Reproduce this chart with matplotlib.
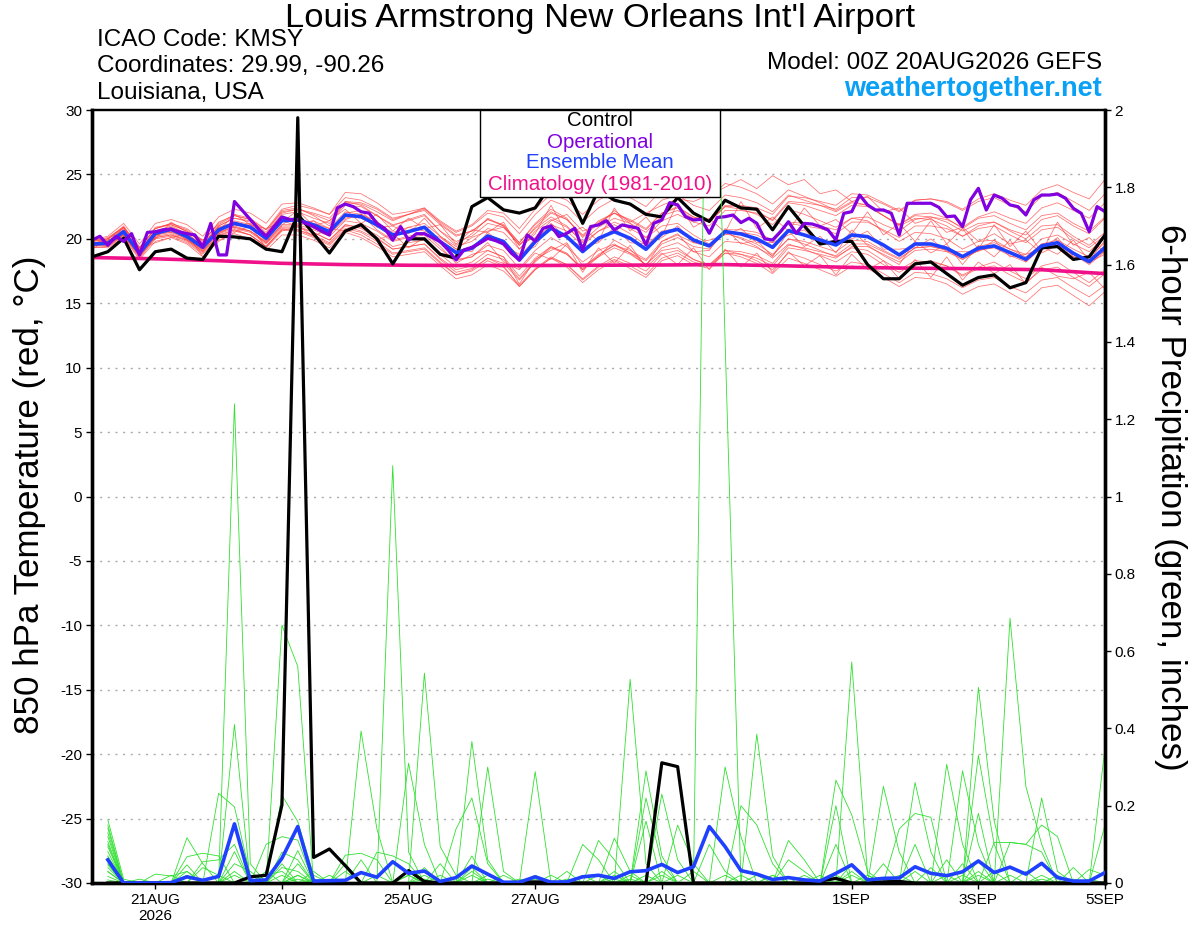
import numpy as np
import matplotlib
matplotlib.use('Agg')
import matplotlib.pyplot as plt
from matplotlib.patches import Rectangle

plt.rcParams['font.family'] = ['Liberation Sans', 'DejaVu Sans']

# forecast hours from 00Z 20AUG2026
hours_6h = np.arange(0, 385, 6)      # temperature, 6-hourly
hours_3h = np.arange(0, 385, 3)      # operational run, 3-hourly
hours_pcp = np.arange(6, 385, 6)     # 6-hour precipitation
hours_clim = np.arange(0, 385, 24)   # daily climatology

tick_hours = [24, 72, 120, 168, 216, 288, 336, 384]
tick_labels = ['21AUG\n2026', '23AUG', '25AUG', '27AUG', '29AUG', '1SEP', '3SEP', '5SEP']

# 850 hPa temperature (C)
control_t = [18.6, 19.0, 20.05, 17.6, 19.0, 19.2, 18.5, 18.4, 20.2, 20.15, 20.0, 19.2, 19.0,
             21.9, 20.4, 18.9, 20.6, 21.1, 20.0, 18.06, 20.0, 20.0, 18.8, 18.5, 22.5, 23.2,
             22.25, 22.0, 22.4, 24.2, 23.8, 21.2, 23.8, 23.0, 22.7, 21.9, 21.7, 23.2, 22.0,
             21.35, 23.0, 22.4, 22.3, 20.7, 22.5, 21.0, 19.6, 19.8, 19.8, 18.0, 16.9, 16.9,
             18.06, 18.2, 17.3, 16.4, 17.0, 17.2, 16.2, 16.6, 19.3, 19.4, 18.4, 18.6, 20.3]

mean_t = [19.6, 19.65, 20.56, 18.88, 20.43, 20.74, 20.17, 19.34, 20.69, 21.2, 20.9, 20.04, 21.41,
          21.46, 21.08, 20.56, 21.85, 21.72, 21.08, 20.3, 20.56, 20.9, 19.78, 18.93, 19.27, 20.22,
          19.78, 18.36, 19.78, 20.82, 20.17, 19.01, 20.04, 20.56, 20.04, 19.19, 20.43, 20.74, 19.91,
          19.45, 20.56, 20.38, 20.0, 19.34, 20.64, 20.3, 19.91, 19.52, 20.3, 20.17, 19.52, 18.75,
          19.6, 19.6, 19.27, 18.62, 19.27, 19.45, 18.93, 18.41, 19.45, 19.7, 18.88, 18.23, 19.34]

oper_t = [19.9, 20.2, 19.5, 20.2, 19.8, 20.4, 18.75, 20.5, 20.55, 20.7,
          20.75, 20.55, 20.4, 20.3, 19.35, 21.2, 18.75, 18.75, 22.9, 22.2,
          21.5, 20.8, 20.2, 20.95, 21.7, 21.5, 21.5, 21.2, 20.95, 20.6,
          20.3, 22.4, 22.7, 22.5, 22.1, 22.0, 21.2, 20.8, 19.9, 20.95,
          19.9, 20.4, 20.4, 20.1, 19.78, 19.14, 18.36, 19.14, 19.34, 19.66,
          20.04, 19.86, 19.6, 18.88, 18.36, 20.3, 19.83, 20.82, 21.0, 20.17,
          20.43, 20.82, 19.14, 20.95, 21.08, 21.41, 20.69, 21.08, 20.95, 20.82,
          19.52, 21.21, 21.46, 22.81, 22.63, 21.72, 21.46, 21.52, 20.43, 21.65,
          21.72, 21.85, 21.26, 21.6, 21.21, 20.0, 19.91, 20.56, 21.33, 20.43,
          21.2, 21.15, 20.95, 20.69, 19.91, 21.98, 22.11, 23.4, 22.63, 22.24,
          22.24, 21.98, 20.3, 22.76, 22.76, 22.76, 22.76, 22.45, 21.72, 21.77,
          20.95, 23.02, 23.92, 22.24, 23.4, 23.15, 22.63, 22.5, 21.85, 23.02,
          23.4, 23.4, 23.48, 23.15, 22.37, 21.98, 20.56, 22.5, 22.11]

clim_t = [18.55, 18.45, 18.3, 18.1, 18.0, 17.95, 17.93, 17.93, 17.95, 17.97, 18.0, 17.9,
          17.78, 17.72, 17.68, 17.6, 17.3]

# ensemble members, 850 hPa temperature
temp_members = [
    [19.9, 20.0, 21.0, 19.2, 20.9, 21.1, 20.6, 19.7, 21.3, 21.8, 21.5, 20.5, 22.2,
     22.4, 21.8, 21.0, 22.9, 22.6, 21.8, 21.0, 21.5, 21.9, 20.6, 19.5, 20.4, 21.6,
     21.0, 19.7, 21.2, 22.3, 21.6, 20.1, 21.2, 22.0, 21.2, 20.1, 21.0, 21.2, 20.3,
     19.6, 20.5, 20.0, 19.4, 18.5, 19.6, 19.2, 18.7, 18.2, 19.0, 18.8, 18.0, 17.4,
     18.1, 18.3, 17.9, 17.2, 17.8, 18.2, 17.5, 16.9, 17.9, 18.2, 17.4, 16.6, 17.6],
    [19.3, 19.4, 20.2, 18.5, 20.0, 20.2, 19.7, 18.8, 20.1, 20.6, 20.3, 19.4, 20.8,
     20.7, 20.3, 19.7, 21.0, 20.6, 20.0, 19.2, 19.4, 19.6, 18.5, 17.6, 17.9, 18.8,
     18.4, 16.9, 18.3, 19.4, 18.9, 17.6, 18.7, 19.5, 18.9, 18.3, 19.6, 20.1, 19.4,
     19.2, 20.5, 20.5, 20.3, 19.7, 21.2, 21.0, 20.8, 20.4, 21.3, 21.3, 20.7, 20.1,
     21.0, 21.0, 20.8, 20.2, 21.0, 21.3, 20.7, 20.3, 21.5, 21.8, 21.0, 20.4, 21.6],
    [19.8, 20.0, 20.9, 19.3, 20.8, 21.2, 20.8, 19.9, 21.1, 21.8, 21.5, 20.7, 22.1,
     22.3, 22.0, 21.6, 22.9, 22.8, 22.3, 21.5, 21.9, 22.3, 21.3, 20.5, 21.0, 22.0,
     21.7, 20.4, 21.9, 23.0, 22.5, 21.3, 22.4, 23.1, 22.6, 21.8, 23.0, 23.4, 22.6,
     22.2, 23.4, 23.2, 22.8, 22.1, 23.4, 23.0, 22.6, 22.1, 22.8, 22.6, 21.8, 21.1,
     21.8, 21.7, 21.3, 20.6, 21.2, 21.3, 20.6, 20.0, 21.0, 21.1, 20.2, 19.5, 20.5],
    [19.5, 19.6, 20.4, 18.6, 20.2, 20.4, 19.9, 19.0, 20.3, 20.7, 20.3, 19.4, 20.7,
     20.7, 20.2, 19.6, 20.8, 20.5, 19.8, 18.9, 19.1, 19.3, 18.2, 17.2, 17.5, 18.3,
     17.8, 16.4, 17.7, 18.6, 18.0, 16.8, 17.8, 18.4, 17.9, 17.2, 18.5, 18.9, 18.2,
     17.9, 19.1, 19.0, 18.7, 18.1, 19.5, 19.3, 19.0, 18.7, 19.6, 19.6, 19.0, 18.4,
     19.3, 19.4, 19.2, 18.6, 19.4, 19.7, 19.2, 18.8, 20.0, 20.3, 19.6, 19.0, 20.2],
    [19.6, 19.8, 20.7, 19.0, 20.6, 21.0, 20.4, 19.4, 20.9, 21.3, 21.0, 20.1, 21.6,
     21.6, 21.2, 20.8, 22.1, 21.9, 21.2, 20.5, 20.9, 21.2, 20.2, 19.4, 19.8, 20.8,
     20.5, 19.2, 20.6, 21.5, 20.9, 19.8, 20.9, 21.6, 21.2, 20.5, 21.8, 22.2, 21.6,
     21.3, 22.5, 22.6, 22.4, 21.9, 23.3, 23.2, 22.9, 22.6, 23.5, 23.4, 22.8, 22.2,
     23.0, 23.1, 22.8, 22.2, 22.9, 23.2, 22.6, 22.1, 23.3, 23.6, 22.9, 22.2, 23.5],
    [19.4, 19.3, 20.1, 18.4, 19.8, 20.1, 19.6, 18.6, 19.9, 20.4, 20.0, 19.1, 20.3,
     20.3, 19.9, 19.3, 20.5, 20.1, 19.4, 18.6, 18.8, 19.0, 17.9, 16.9, 17.2, 18.0,
     17.5, 16.3, 17.6, 18.5, 18.0, 16.9, 17.9, 18.6, 18.1, 17.5, 18.8, 19.1, 18.4,
     18.0, 19.1, 18.8, 18.3, 17.6, 18.9, 18.5, 18.0, 17.5, 18.2, 18.0, 17.3, 16.6,
     17.4, 17.3, 16.9, 16.2, 16.8, 17.0, 16.3, 15.8, 16.8, 17.0, 16.2, 15.5, 16.4],
    [19.7, 19.8, 20.5, 19.1, 20.6, 20.5, 20.3, 19.5, 20.5, 21.4, 21.1, 20.3, 21.6,
     21.2, 21.4, 20.8, 21.6, 21.9, 21.4, 20.1, 20.9, 20.6, 20.1, 19.2, 19.0, 20.5,
     19.5, 18.8, 19.4, 21.2, 20.0, 19.4, 19.7, 20.9, 19.7, 19.6, 20.1, 21.0, 19.7,
     19.9, 20.3, 20.8, 19.7, 19.7, 20.3, 20.7, 19.6, 19.9, 20.0, 20.6, 19.2, 19.2,
     19.3, 20.0, 19.0, 19.0, 19.0, 19.9, 18.6, 18.8, 19.2, 20.1, 18.6, 18.6, 19.0],
    [19.9, 20.2, 21.2, 19.6, 21.2, 21.5, 21.1, 20.2, 21.7, 22.3, 22.0, 21.2, 22.7,
     22.8, 22.4, 21.9, 23.2, 23.0, 22.4, 21.6, 21.9, 22.2, 21.1, 20.2, 20.6, 21.5,
     21.1, 19.7, 21.1, 22.1, 21.5, 20.3, 21.4, 22.0, 21.5, 20.8, 22.0, 22.4, 21.7,
     21.4, 22.5, 22.3, 21.9, 21.1, 22.3, 21.9, 21.4, 20.9, 21.6, 21.4, 20.6, 19.8,
     20.5, 20.4, 20.0, 19.2, 19.8, 19.9, 19.2, 18.6, 19.6, 19.7, 18.8, 18.0, 19.0],
    [19.6, 19.6, 20.5, 18.8, 20.3, 20.6, 20.0, 19.1, 20.5, 21.0, 20.6, 19.7, 21.1,
     21.1, 20.7, 20.2, 21.4, 21.2, 20.6, 19.8, 20.1, 20.3, 19.2, 18.3, 18.6, 19.5,
     19.1, 17.7, 19.1, 20.1, 19.4, 18.2, 19.1, 19.6, 18.9, 18.0, 19.1, 19.3, 18.4,
     17.9, 18.9, 18.6, 18.1, 17.3, 18.5, 18.1, 17.6, 17.1, 17.9, 17.7, 17.0, 16.3,
     17.0, 16.9, 16.5, 15.7, 16.3, 16.5, 15.8, 15.1, 16.2, 16.4, 15.6, 14.8, 15.9],
    [19.8, 19.9, 20.9, 19.0, 20.8, 21.1, 20.6, 19.6, 21.0, 21.6, 21.4, 20.3, 21.9,
     22.1, 21.6, 21.2, 22.6, 22.5, 21.8, 21.1, 21.4, 21.8, 20.6, 19.8, 20.2, 21.2,
     20.9, 19.5, 20.9, 22.0, 21.5, 20.2, 21.3, 22.0, 21.4, 20.7, 22.0, 22.5, 21.7,
     21.3, 22.6, 22.5, 22.2, 21.4, 22.8, 22.6, 22.2, 21.8, 22.6, 22.5, 21.8, 21.1,
     21.9, 22.0, 21.6, 20.8, 21.6, 21.8, 21.2, 20.7, 21.8, 22.0, 21.2, 20.6, 21.7],
    [19.5, 19.5, 20.3, 18.7, 20.1, 20.3, 19.9, 19.0, 20.4, 20.8, 20.5, 19.6, 20.9,
     20.9, 20.5, 19.9, 21.1, 20.9, 20.3, 19.4, 19.7, 19.9, 18.8, 17.8, 18.2, 19.1,
     18.6, 17.1, 18.5, 19.4, 18.8, 17.6, 18.6, 19.3, 18.8, 18.0, 19.3, 19.7, 19.0,
     18.6, 19.8, 19.7, 19.3, 18.7, 20.0, 19.8, 19.4, 19.0, 19.9, 19.8, 19.1, 18.5,
     19.3, 19.4, 19.1, 18.4, 19.1, 19.3, 18.7, 18.2, 19.3, 19.5, 18.8, 18.1, 19.1],
    [19.7, 19.8, 20.7, 19.0, 20.6, 20.9, 20.4, 19.5, 21.0, 21.6, 21.3, 20.4, 22.0,
     22.3, 21.9, 21.4, 22.8, 22.7, 22.1, 21.4, 21.9, 22.4, 21.4, 20.6, 21.1, 22.2,
     22.0, 20.8, 22.3, 23.5, 23.0, 21.9, 23.0, 23.7, 23.2, 22.5, 23.8, 24.3, 23.6,
     23.2, 24.3, 24.0, 23.5, 22.7, 23.8, 23.3, 22.8, 22.2, 22.9, 22.6, 21.8, 21.0,
     21.6, 21.5, 21.0, 20.2, 20.8, 21.0, 20.3, 19.7, 20.7, 20.9, 20.0, 19.3, 20.3],
    [19.5, 19.4, 20.3, 18.6, 20.1, 20.3, 19.8, 18.9, 20.2, 20.7, 20.3, 19.4, 20.7,
     20.6, 20.1, 19.5, 20.7, 20.3, 19.6, 18.8, 19.0, 19.2, 18.1, 17.2, 17.6, 18.5,
     18.1, 16.8, 18.2, 19.3, 18.8, 17.7, 18.8, 19.5, 19.1, 18.4, 19.8, 20.3, 19.7,
     19.4, 20.7, 20.7, 20.5, 19.9, 21.3, 21.2, 21.0, 20.7, 21.6, 21.7, 21.1, 20.6,
     21.5, 21.7, 21.5, 20.9, 21.7, 22.1, 21.6, 21.2, 22.4, 22.8, 22.2, 21.6, 22.8],
    [19.7, 19.7, 20.6, 18.9, 20.5, 20.7, 20.2, 19.3, 20.8, 21.3, 20.9, 20.0, 21.5,
     21.5, 21.1, 20.5, 21.8, 21.6, 21.0, 20.2, 20.5, 20.8, 19.8, 18.9, 19.3, 20.3,
     19.9, 18.6, 20.0, 21.1, 20.6, 19.5, 20.6, 21.3, 20.8, 20.1, 21.4, 21.9, 21.3,
     21.0, 22.2, 22.2, 22.0, 21.5, 22.9, 22.8, 22.6, 22.3, 23.2, 23.2, 22.7, 22.1,
     23.0, 23.1, 22.9, 22.3, 23.1, 23.5, 23.0, 22.6, 23.8, 24.2, 23.6, 23.1, 24.6],
    [19.6, 19.5, 20.4, 18.7, 20.3, 20.5, 20.0, 19.1, 20.5, 20.9, 20.6, 19.7, 21.0,
     21.0, 20.5, 19.9, 21.1, 20.8, 20.1, 19.2, 19.4, 19.6, 18.4, 17.4, 17.7, 18.5,
     17.9, 16.3, 17.6, 18.5, 17.8, 16.6, 17.6, 18.3, 17.7, 17.0, 18.3, 18.7, 18.0,
     17.7, 18.9, 18.8, 18.5, 17.9, 19.3, 19.1, 18.8, 18.5, 19.4, 19.4, 18.8, 18.2,
     19.1, 19.2, 19.0, 18.4, 19.1, 19.4, 18.9, 18.4, 19.6, 19.9, 19.2, 18.6, 19.7],
    [19.8, 20.1, 20.9, 19.3, 20.8, 21.2, 20.7, 19.8, 21.2, 21.9, 21.6, 20.7, 22.3,
     22.6, 22.3, 21.9, 23.6, 23.5, 22.8, 21.9, 22.1, 22.4, 21.2, 20.3, 20.6, 21.5,
     21.0, 19.5, 20.8, 21.7, 21.0, 19.7, 20.6, 21.1, 20.4, 19.5, 20.6, 20.8, 19.9,
     19.4, 20.4, 20.1, 19.6, 18.8, 20.0, 19.6, 19.1, 18.6, 19.3, 19.1, 18.3, 17.6,
     18.3, 18.2, 17.9, 17.1, 17.7, 17.9, 17.2, 16.6, 17.6, 17.8, 17.0, 16.3, 17.3],
    [20.1, 19.6, 20.9, 19.4, 20.0, 21.3, 20.5, 19.9, 20.6, 21.9, 21.1, 20.8, 21.3,
     22.2, 21.0, 21.4, 22.3, 21.2, 21.9, 20.6, 21.6, 20.8, 21.1, 19.6, 20.7, 20.5,
     21.3, 19.2, 20.4, 22.6, 20.4, 20.9, 19.8, 22.4, 20.6, 21.7, 20.2, 22.8, 20.9,
     21.6, 20.5, 22.9, 20.8, 21.7, 20.6, 22.4, 21.0, 21.5, 20.4, 22.1, 20.3, 21.2,
     19.8, 21.4, 19.6, 20.8, 19.2, 21.1, 19.4, 20.6, 19.0, 21.3, 19.5, 20.1, 18.9],
    [19.2, 19.9, 20.0, 19.2, 19.7, 20.1, 20.4, 18.6, 19.8, 20.5, 21.0, 19.3, 20.6,
     21.0, 20.2, 20.8, 20.6, 21.2, 19.9, 20.4, 19.3, 20.1, 18.7, 18.4, 18.6, 19.7,
     18.2, 17.6, 18.9, 18.4, 19.6, 17.4, 19.3, 18.1, 19.5, 17.8, 18.9, 18.0, 19.3,
     17.6, 19.2, 17.8, 18.9, 17.4, 19.0, 17.9, 18.7, 17.2, 18.8, 17.6, 18.3, 16.9,
     18.4, 17.0, 18.6, 16.8, 18.2, 17.3, 18.0, 16.5, 17.8, 17.1, 16.9, 17.4, 16.1],
    [19.6, 20.0, 20.8, 18.9, 20.5, 20.6, 20.3, 19.6, 20.4, 21.0, 21.2, 19.8, 21.4,
     21.0, 21.4, 20.3, 22.0, 22.2, 20.9, 21.0, 20.4, 21.6, 20.2, 19.2, 20.1, 20.6,
     20.9, 19.6, 20.1, 21.4, 21.9, 20.6, 21.1, 22.2, 21.3, 22.0, 22.6, 23.1, 22.9,
     23.4, 24.0, 24.6, 23.9, 24.9, 24.2, 24.6, 23.5, 23.8, 22.9, 23.3, 22.1, 22.4,
     21.2, 21.6, 20.5, 20.9, 19.8, 20.4, 19.6, 19.9, 18.9, 19.5, 18.6, 18.2, 18.8],
    [19.4, 19.7, 20.3, 18.7, 20.2, 20.9, 19.9, 19.2, 20.9, 20.9, 20.6, 19.8, 21.1,
     21.8, 20.8, 20.4, 21.5, 21.9, 20.7, 19.9, 20.2, 20.5, 19.4, 18.1, 18.8, 19.1,
     18.6, 16.5, 18.4, 19.1, 19.7, 17.9, 18.6, 19.9, 19.2, 17.9, 19.8, 20.4, 19.0,
     19.1, 20.8, 19.6, 19.9, 18.6, 20.6, 19.4, 20.2, 18.9, 20.7, 19.5, 18.7, 18.0,
     19.8, 18.9, 19.6, 18.0, 19.5, 18.6, 19.9, 18.2, 19.4, 18.8, 19.9, 18.3, 19.9],
]

# 6-hour precipitation (inches)
control_p = [0, 0, 0, 0, 0, 0, 0, 0, 0, 0.016, 0.02, 0.202, 1.98, 0.066, 0.088, 0.045,
             0, 0, 0, 0.032, 0.004, 0, 0, 0, 0, 0, 0.002, 0.003, 0.002, 0, 0, 0,
             0, 0, 0, 0.311, 0.301, 0, 0, 0, 0, 0, 0, 0, 0, 0.005, 0.012, 0,
             0, 0.003, 0.004, 0, 0, 0, 0, 0, 0, 0, 0, 0, 0, 0, 0, 0]

mean_p = [0.06, 0.0, 0.0, 0.0, 0.001, 0.016, 0.007, 0.017, 0.153, 0.006, 0.008, 0.064, 0.146,
          0.005, 0.006, 0.007, 0.027, 0.015, 0.055, 0.025, 0.031, 0.004, 0.014, 0.044, 0.023,
          0.002, 0.002, 0.016, 0.002, 0.003, 0.016, 0.02, 0.012, 0.029, 0.032, 0.048, 0.027,
          0.042, 0.146, 0.094, 0.032, 0.023, 0.009, 0.014, 0.008, 0.005, 0.025, 0.047, 0.008,
          0.012, 0.013, 0.042, 0.025, 0.019, 0.029, 0.057, 0.027, 0.041, 0.023, 0.051, 0.014,
          0.005, 0.005, 0.027]

# ensemble members, 6-hour precip: {step: inches}, other steps dry
precip_members = [
    {1: 0.163, 2: 0.01, 9: 1.24, 10: 0.05, 13: 0.02, 24: 0.07, 34: 0.527, 35: 0.05, 47: 0.1, 56: 0.18, 64: 0.15},
    {1: 0.142, 8: 0.232, 9: 0.197, 10: 0.02, 12: 0.667, 13: 0.56, 21: 0.04, 28: 0.288, 39: 2.9, 40: 1.4,
     48: 0.05, 58: 0.685, 59: 0.25, 60: 0.1},
    {1: 0.12, 6: 0.117, 7: 0.05, 9: 0.41, 17: 0.393, 18: 0.14, 36: 0.23, 37: 0.06, 48: 0.572, 49: 0.02,
     56: 0.33, 57: 0.1},
    {1: 0.107, 12: 0.227, 13: 0.159, 14: 0.02, 19: 1.08, 20: 0.08, 35: 0.29, 36: 0.07, 42: 0.385, 43: 0.07,
     52: 0.26, 53: 0.08, 60: 0.22, 61: 0.03},
    {1: 0.094, 6: 0.068, 7: 0.077, 8: 0.07, 20: 0.31, 21: 0.1, 24: 0.366, 25: 0.06, 40: 0.30, 41: 0.12,
     54: 0.307, 55: 0.1, 64: 0.35},
    {1: 0.081, 6: 0.047, 11: 0.1, 12: 0.12, 13: 0.111, 21: 0.543, 22: 0.094, 23: 0.02, 35: 0.22, 36: 0.05,
     47: 0.266, 48: 0.176, 49: 0.03, 58: 0.105, 59: 0.1, 60: 0.15, 61: 0.12},
    {1: 0.064, 4: 0.023, 5: 0.018, 6: 0.03, 9: 0.081, 16: 0.072, 17: 0.077, 18: 0.06, 25: 0.30, 26: 0.03,
     33: 0.116, 34: 0.03, 41: 0.2, 42: 0.15, 43: 0.05, 50: 0.25, 51: 0.08, 56: 0.506, 57: 0.16, 62: 0.04},
    {1: 0.047, 7: 0.055, 8: 0.06, 9: 0.1, 13: 0.084, 23: 0.14, 24: 0.22, 25: 0.05, 32: 0.11, 33: 0.06,
     37: 0.15, 38: 0.05, 51: 0.14, 52: 0.18, 53: 0.17, 55: 0.29, 56: 0.1},
    {1: 0.029, 5: 0.02, 12: 0.08, 13: 0.06, 18: 0.08, 19: 0.07, 20: 0.05, 28: 0.02, 31: 0.1, 32: 0.06,
     35: 0.16, 44: 0.11, 45: 0.06, 52: 0.1, 57: 0.105, 58: 0.105, 59: 0.1, 60: 0.08},
    {1: 0.017, 3: 0.01, 6: 0.02, 11: 0.03, 16: 0.03, 22: 0.05, 24: 0.03, 30: 0.03, 33: 0.03, 39: 0.1,
     40: 0.03, 44: 0.06, 45: 0.03, 48: 0.03, 50: 0.05, 54: 0.06, 56: 0.03, 63: 0.035, 64: 0.02},
    {1: 0.008, 9: 0.05, 10: 0.03, 12: 0.04, 13: 0.03, 15: 0.02, 17: 0.06, 26: 0.02, 29: 0.02, 36: 0.03,
     43: 0.02, 46: 0.02, 53: 0.04, 56: 0.06, 61: 0.02},
    {1: 0.15, 7: 0.04, 8: 0.02, 12: 0.05, 14: 0.03, 20: 0.02, 24: 0.04, 27: 0.01, 32: 0.02, 34: 0.02,
     38: 0.03, 45: 0.02, 49: 0.02, 55: 0.05, 59: 0.03},
    {1: 0.13, 6: 0.03, 9: 0.02, 13: 0.02, 16: 0.05, 21: 0.02, 25: 0.02, 31: 0.02, 37: 0.02, 42: 0.02,
     47: 0.2, 52: 0.03, 60: 0.02},
    {1: 0.10, 11: 0.02, 12: 0.03, 14: 0.01, 18: 0.02, 22: 0.02, 30: 0.01, 35: 0.02, 41: 0.02, 48: 0.02,
     54: 0.02, 57: 0.03},
    {1: 0.07, 13: 0.05, 24: 0.02, 33: 0.02, 36: 0.02, 43: 0.02, 51: 0.02, 56: 0.02, 62: 0.01},
    {1: 0.05, 9: 0.03, 20: 0.02, 28: 0.01, 40: 0.02, 47: 0.02, 55: 0.02, 63: 0.01},
    {1: 0.04, 12: 0.02, 25: 0.01, 34: 0.01, 46: 0.01, 58: 0.02},
    {1: 0.03, 13: 0.01, 21: 0.01, 33: 0.01, 50: 0.01, 60: 0.01},
]

RED = '#ff4040'
GREEN = '#30e030'
PURPLE = '#8000e0'
BLUE = '#2040ff'
PINK = '#f0108a'


def expand(steps):
    vals = np.zeros(len(hours_pcp))
    for k, v in steps.items():
        vals[k - 1] = v
    return vals


fig = plt.figure(figsize=(12, 9.27), dpi=100)
ax = fig.add_axes([92 / 1200, 1 - 883 / 927, 1013 / 1200, 773 / 927])
ax2 = ax.twinx()

# temperature
for m in temp_members:
    ax.plot(hours_6h, m, color=RED, lw=0.55, alpha=0.75, zorder=2)
ax.plot(hours_clim, clim_t, color=PINK, lw=2.6, zorder=3)
ax.plot(hours_6h, control_t, color='black', lw=2.3, zorder=4)
ax.plot(hours_6h, mean_t, color=BLUE, lw=2.6, zorder=5)
ax.plot(hours_3h, oper_t, color=PURPLE, lw=2.3, zorder=6)

# precipitation
for d in precip_members:
    ax2.plot(hours_pcp, expand(d), color=GREEN, lw=0.6, zorder=2)
ax2.plot(hours_pcp, control_p, color='black', lw=2.3, zorder=4)
ax2.plot(hours_pcp, mean_p, color=BLUE, lw=2.6, zorder=5)

ax.set_xlim(0, 384)
ax.set_ylim(-30, 30)
ax2.set_ylim(0, 2)
ax.set_yticks(np.arange(-30, 31, 5))
ax.set_yticklabels([str(v) for v in range(-30, 31, 5)])
ax2.set_yticks(np.arange(0, 2.01, 0.2))
ax2.set_yticklabels(['0', '0.2', '0.4', '0.6', '0.8', '1', '1.2', '1.4', '1.6', '1.8', '2'])
ax.set_xticks(tick_hours)
ax.set_xticklabels(tick_labels)

for y in range(-25, 30, 5):
    ax.axhline(y, color='#aaaaaa', lw=1.0, ls=(0, (1.5, 4)), zorder=1)

for lab in ax.get_xticklabels() + ax.get_yticklabels() + ax2.get_yticklabels():
    lab.set_fontsize(11)
ax.tick_params(axis='both', direction='out', length=4, width=1, pad=3)
ax2.tick_params(axis='y', direction='out', length=4, width=1, pad=3)

for a in (ax, ax2):
    a.spines['left'].set_linewidth(2.4)
    a.spines['right'].set_linewidth(2.4)
    a.spines['bottom'].set_linewidth(2.4)
    a.spines['top'].set_linewidth(1.6)

# legend box
ax2.add_patch(Rectangle((388 / 1013, 1 - 87 / 773), 240 / 1013, 87 / 773, transform=ax2.transAxes,
                        facecolor='white', edgecolor='black', lw=1.0, zorder=20, clip_on=False))
leg = [('Control', 'black', 121), ('Operational', PURPLE, 142),
       ('Ensemble Mean', BLUE, 163), ('Climatology (1981-2010)', PINK, 185)]
for txt, col, ypix in leg:
    fig.text(600 / 1200, 1 - ypix / 927, txt, color=col, fontsize=14.8, ha='center', va='center',
             zorder=30)

# header texts
fig.text(600 / 1200, 1 - 18 / 927, "Louis Armstrong New Orleans Int'l Airport", fontsize=24.8,
         ha='center', va='center')
fig.text(97 / 1200, 1 - 40 / 927, 'ICAO Code: KMSY', fontsize=17.5, ha='left', va='center')
fig.text(97 / 1200, 1 - 66 / 927, 'Coordinates: 29.99, -90.26', fontsize=17.5, ha='left', va='center')
fig.text(97 / 1200, 1 - 93 / 927, 'Louisiana, USA', fontsize=17.5, ha='left', va='center')
fig.text(1102 / 1200, 1 - 63 / 927, 'Model: 00Z 20AUG2026 GEFS', fontsize=17.5, ha='right', va='center')
fig.text(1102 / 1200, 1 - 89 / 927, 'weathertogether.net', fontsize=19.5, ha='right', va='center',
         color='#0aa0f5', fontweight='bold')

fig.text(30 / 1200, 1 - 495 / 927, '850 hPa Temperature (red, °C)', fontsize=25.2, rotation=90,
         ha='center', va='center')
fig.text(1170 / 1200, 1 - 497 / 927, '6-hour Precipitation (green, inches)', fontsize=25.2,
         rotation=270, ha='center', va='center')

fig.savefig('out.png', dpi=100)
